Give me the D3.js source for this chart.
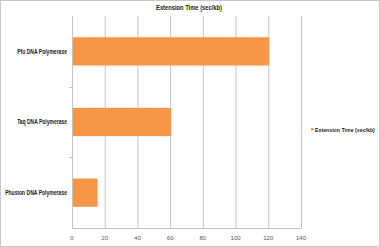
<!DOCTYPE html>
<html>
<head>
<meta charset="utf-8">
<script src="https://cdn.jsdelivr.net/npm/d3@7"></script>
<style>
  body { margin: 0; background: #fff; }
  text { font-family: "Liberation Sans", Arial, sans-serif; }
</style>
</head>
<body>
<div id="chart"></div>
<script>
// data
const categories = ["Pfu DNA Polymerase", "Taq DNA Polymerase", "Phusion DNA Polymerase"];
const values = [120, 60, 15];
const xTicks = [0, 20, 40, 60, 80, 100, 120, 140];
const seriesName = "Extension Time (sec/kb)";

const width = 380, height = 247;
const margin = { top: 16, right: 79, bottom: 19, left: 72 };

const svg = d3.select("#chart").append("svg")
    .attr("width", width)
    .attr("height", height);

// outer frame
svg.append("rect")
    .attr("x", 0.5).attr("y", 0.5)
    .attr("width", width - 1).attr("height", height - 1)
    .attr("fill", "#fff")
    .attr("stroke", "#c8c8c8");

const x = d3.scaleLinear()
    .domain([0, 140])
    .range([margin.left, width - margin.right]);

const y = d3.scaleBand()
    .domain(categories)
    .range([margin.top, height - margin.bottom])
    .paddingInner(0.6)
    .paddingOuter(0.3);

// squeeze a text horizontally so it looks like a condensed bold face
function squeeze(sel, target, anchorX) {
    sel.each(function(d, i) {
        const t = typeof target === "function" ? target(d, i) : target;
        const w = this.getComputedTextLength();
        const k = Math.min(1, t / w);
        const ax = typeof anchorX === "function" ? anchorX(d, i) : anchorX;
        d3.select(this).attr("transform", `translate(${ax},0) scale(${k},1) translate(${-ax},0)`);
    });
}

// gridlines
svg.append("g")
    .selectAll("line")
    .data(xTicks)
    .enter().append("line")
    .attr("x1", d => x(d) + 0.5)
    .attr("x2", d => x(d) + 0.5)
    .attr("y1", margin.top)
    .attr("y2", height - margin.bottom)
    .attr("stroke", "#c4c4c4")
    .attr("stroke-width", 1);

// category separators on the left axis
const bounds = [1, 2].map(i => margin.top + (height - margin.top - margin.bottom) * i / 3);
svg.append("g")
    .selectAll("line")
    .data(bounds)
    .enter().append("line")
    .attr("x1", margin.left - 3)
    .attr("x2", margin.left)
    .attr("y1", d => Math.round(d) + 0.5)
    .attr("y2", d => Math.round(d) + 0.5)
    .attr("stroke", "#c4c4c4");

// bottom axis line
svg.append("line")
    .attr("x1", margin.left)
    .attr("x2", x(140) + 0.5)
    .attr("y1", height - margin.bottom + 0.5)
    .attr("y2", height - margin.bottom + 0.5)
    .attr("stroke", "#c4c4c4");

// bars
svg.append("g")
    .selectAll("rect")
    .data(categories)
    .enter().append("rect")
    .attr("x", x(0) + 1)
    .attr("y", d => y(d))
    .attr("width", (d, i) => x(values[i]) - x(0))
    .attr("height", y.bandwidth())
    .attr("fill", "#F79646");

// category labels
const labelWidths = [50, 50, 62];
svg.append("g")
    .selectAll("text")
    .data(categories)
    .enter().append("text")
    .attr("x", margin.left - 5)
    .attr("y", d => y(d) + y.bandwidth() / 2)
    .attr("dy", "0.35em")
    .attr("text-anchor", "end")
    .style("font-size", "6.5px")
    .style("font-weight", "bold")
    .attr("fill", "#222")
    .text(d => d)
    .call(squeeze, (d, i) => labelWidths[i], margin.left - 5);

// tick labels
svg.append("g")
    .selectAll("text")
    .data(xTicks)
    .enter().append("text")
    .attr("x", d => x(d))
    .attr("y", height - margin.bottom + 10)
    .attr("dy", "0.35em")
    .attr("text-anchor", "middle")
    .style("font-size", "6px")
    .attr("fill", "#555")
    .text(d => d);

// title
svg.append("text")
    .attr("x", 189)
    .attr("y", 8)
    .attr("dy", "0.35em")
    .attr("text-anchor", "middle")
    .style("font-size", "7px")
    .style("font-weight", "bold")
    .attr("fill", "#222")
    .text(seriesName)
    .call(squeeze, 66, 189);

// legend
const legend = svg.append("g")
    .attr("transform", "translate(311, 130)");
legend.append("rect")
    .attr("x", 0).attr("y", -2)
    .attr("width", 2.5).attr("height", 2.5)
    .attr("fill", "#F79646");
legend.append("text")
    .attr("x", 4)
    .attr("y", 0)
    .attr("dy", "0.35em")
    .style("font-size", "6px")
    .style("font-weight", "bold")
    .attr("fill", "#222")
    .text(seriesName)
    .call(squeeze, 60, 4);
</script>
</body>
</html>
